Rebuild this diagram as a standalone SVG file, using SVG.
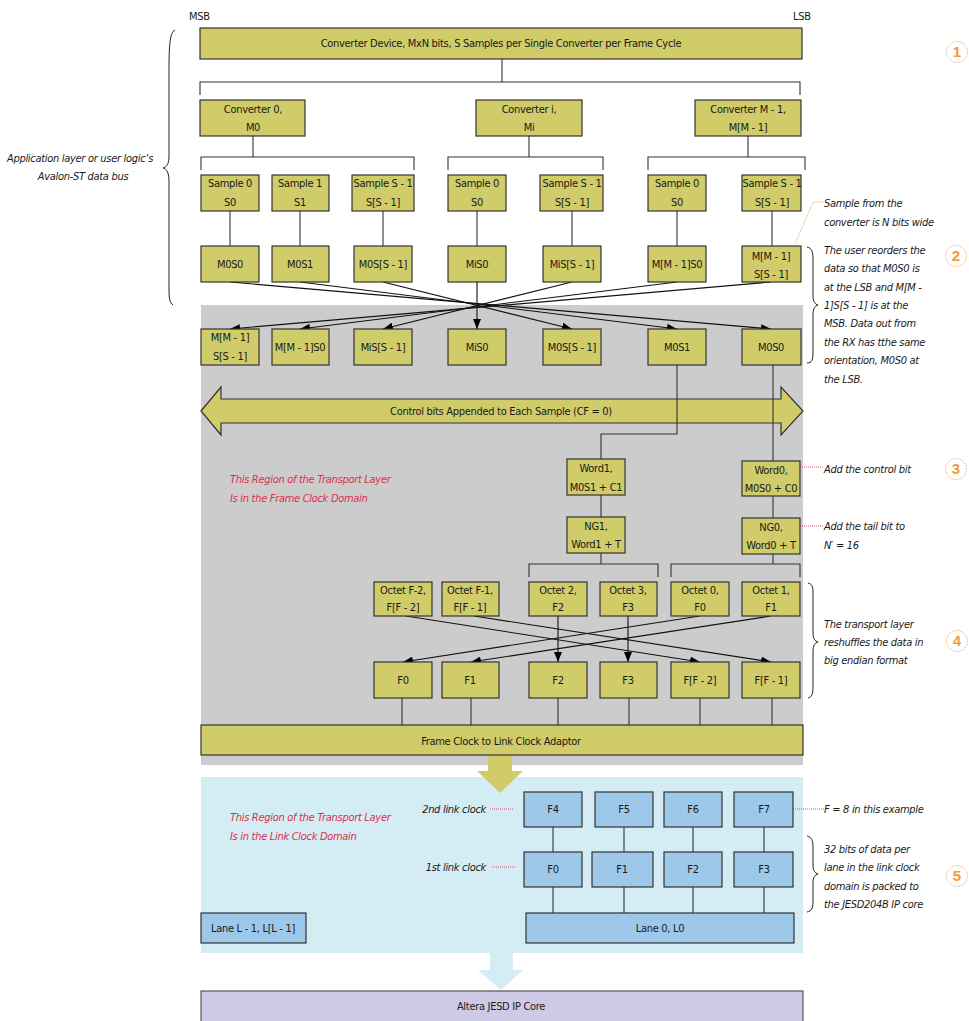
<svg xmlns="http://www.w3.org/2000/svg" width="969" height="1021" viewBox="0 0 969 1021">
<defs>
<style>
text{font-family:"Liberation Sans Narrow","DejaVu Sans Condensed","Roboto Condensed","Liberation Sans",sans-serif;font-stretch:condensed;font-size:11px;letter-spacing:-0.3px;fill:#1a1a1a}
.c{text-anchor:middle}
.i{font-style:italic}
.red{fill:#d9304f;font-style:italic}
.y{fill:#cfcc69;stroke:#333;stroke-width:1.2}
.b{fill:#9ec8e9;stroke:#333;stroke-width:1.2}
.ln{stroke:#333;stroke-width:1.1;fill:none}
.ar{stroke:#111;stroke-width:1.1;fill:none;marker-end:url(#ah)}
.dr{stroke:#e0506a;stroke-width:1;stroke-dasharray:1 1;fill:none}
.do{stroke:#f29a3c;stroke-width:1;stroke-dasharray:1 1.2;fill:none}
.br{stroke:#222;stroke-width:1;fill:none}
.num{font-family:"Liberation Sans","DejaVu Sans",sans-serif;font-weight:bold;font-size:15px;letter-spacing:0;fill:#f29a3c;text-anchor:middle;font-stretch:normal}
</style>
<marker id="ah" viewBox="0 0 10 8" refX="10" refY="4" markerWidth="10" markerHeight="8" orient="auto" markerUnits="userSpaceOnUse"><path d="M0,0 L10,4 L0,8 z" fill="#000"/></marker>
</defs>
<rect width="969" height="1021" fill="#fff"/>

<g id="regions">
<rect x="201" y="305" width="602" height="460" fill="#cccccc"/>
<rect x="201" y="777" width="602" height="176" fill="#d4ecf3"/>
<polygon points="490,953 513,953 513,970 523,970 501,990 478,970 490,970" fill="#d4ecf3"/>
<text class="red" x="230" y="483">This Region of the Transport Layer</text>
<text class="red" x="230" y="502">Is in the Frame Clock Domain</text>
<text class="red" x="230" y="821">This Region of the Transport Layer</text>
<text class="red" x="230" y="840">Is in the Link Clock Domain</text>
</g>

<g id="labels">
<text x="189" y="20">MSB</text>
<text x="793" y="20">LSB</text>
<text class="i c" x="80" y="162">Application layer or user logic’s</text>
<text class="i c" x="83" y="180">Avalon-ST data bus</text>
<path class="br" d="M175,30 C170,32 169,45 169,70 L169,155 C169,164 167,167 163,168 C167,169 169,173 169,182 L169,290 C169,299 170,303 173,305"/>
<path class="br" d="M807,247 C812,248 813,252 813,260 L813,295 C813,302 815,304 818,305 C815,306 813,308 813,315 L813,352 C813,360 812,363 807,363"/>
<path class="br" d="M808,583 C813,584 813,588 813,596 L813,632 C813,639 815,641 818,642 C815,643 813,645 813,652 L813,686 C813,694 812,697 808,698"/>
<path class="br" d="M807,836 C812,837 813,841 813,848 L813,865 C813,871 815,873 818,874 C815,875 813,877 813,883 L813,900 C813,908 812,911 807,912"/>
<path class="do" d="M795,244 L813,202 L824,202"/>
<text class="i" x="824" y="207">Sample from the</text>
<text class="i" x="824" y="226">converter is N bits wide</text>
<text class="i" x="824" y="254">The user reorders the</text>
<text class="i" x="824" y="272">data so that M0S0 is</text>
<text class="i" x="824" y="291">at the LSB and M[M -</text>
<text class="i" x="824" y="309">1]S[S - 1] is at the</text>
<text class="i" x="824" y="327">MSB. Data out from</text>
<text class="i" x="824" y="346">the RX has tthe same</text>
<text class="i" x="824" y="364">orientation, M0S0 at</text>
<text class="i" x="824" y="383">the LSB.</text>
<path class="dr" d="M800,467 L824,467"/>
<text class="i" x="824" y="473">Add the control bit</text>
<path class="dr" d="M800,526 L824,526"/>
<text class="i" x="824" y="530">Add the tail bit to</text>
<text class="i" x="824" y="549">N′ = 16</text>
<text class="i" x="824" y="628">The transport layer</text>
<text class="i" x="824" y="646">reshuffles the data in</text>
<text class="i" x="824" y="664">big endian format</text>
<path class="dr" d="M490,809 L514,809"/>
<text class="i" x="486" y="813" text-anchor="end">2nd link clock</text>
<path class="dr" d="M492,867 L516,867"/>
<text class="i" x="486" y="871" text-anchor="end">1st link clock</text>
<path class="dr" d="M793,809 L824,809"/>
<text class="i" x="824" y="813">F = 8 in this example</text>
<text class="i" x="824" y="853">32 bits of data per</text>
<text class="i" x="824" y="871">lane in the link clock</text>
<text class="i" x="824" y="890">domain is packed to</text>
<text class="i" x="824" y="908">the JESD204B IP core</text>
<circle class="do" cx="957" cy="52" r="10.5"/><text class="num" x="957" y="57">1</text>
<circle class="do" cx="956" cy="256" r="10.5"/><text class="num" x="956" y="261">2</text>
<circle class="do" cx="956" cy="469" r="10.5"/><text class="num" x="956" y="474">3</text>
<circle class="do" cx="957" cy="641" r="10.5"/><text class="num" x="957" y="646">4</text>
<circle class="do" cx="957" cy="876" r="10.5"/><text class="num" x="957" y="881">5</text>
</g>

<g id="cb-arrow">
<polygon class="y" points="201,411 221,387 221,399 781,399 781,387 803,411 781,435 781,423 221,423 221,435"/>
<text class="c" x="501" y="415">Control bits Appended to Each Sample (CF = 0)</text>
</g>

<g id="connectors">
<path class="ln" d="M502,59 V82 M200,95 V82 H800 V95"/>
<path class="ln" d="M253,136 V157 M201,170 V157 H414 V170"/>
<path class="ln" d="M529,136 V157 M448,170 V157 H603 V170"/>
<path class="ln" d="M748,136 V157 M648,170 V157 H805 V170"/>
<path class="ln" d="M230,211 V246 M300,211 V246 M383,211 V246 M477,211 V246 M572,211 V246 M677,211 V246 M772,211 V246"/>
<line class="ar" x1="230" y1="282" x2="771" y2="329"/>
<line class="ar" x1="300" y1="282" x2="677" y2="329"/>
<line class="ar" x1="383" y1="282" x2="572" y2="329"/>
<line class="ar" x1="477" y1="282" x2="477" y2="329"/>
<line class="ar" x1="572" y1="282" x2="383" y2="329"/>
<line class="ar" x1="677" y1="282" x2="300" y2="329"/>
<line class="ar" x1="771" y1="282" x2="230" y2="329"/>
<path class="ln" d="M677,365 V434 H601 V459"/>
<path class="ln" d="M773,365 V461"/>
<path class="ln" d="M601,495 V517 M773,496 V518"/>
<path class="ln" d="M601,553 V564 M529,577 V564 H658 V577"/>
<path class="ln" d="M773,554 V564 M671,577 V564 H800 V577"/>
<line class="ar" x1="406" y1="616" x2="700" y2="662"/>
<line class="ar" x1="474" y1="616" x2="771" y2="662"/>
<line class="ar" x1="558" y1="616" x2="558" y2="662"/>
<line class="ar" x1="628" y1="616" x2="628" y2="662"/>
<line class="ar" x1="700" y1="616" x2="403" y2="662"/>
<line class="ar" x1="771" y1="616" x2="471" y2="662"/>
<path class="ln" d="M402,698 V725 M471,698 V725 M558,698 V725 M629,698 V725 M700,698 V725 M772,698 V725"/>
<path class="ln" d="M553,827 V852 M624,827 V852 M693,827 V852 M764,827 V852 M553,887 V913 M624,887 V913 M693,887 V913 M764,887 V913"/>
<polygon points="488,755 512,755 512,771 523,771 500,793 477,771 488,771" fill="#cfcc69"/>
</g>

<g id="n-top"><rect class="y" x="200" y="28" width="602" height="31"/><text class="c" x="501" y="47">Converter Device, MxN bits, S Samples per Single Converter per Frame Cycle</text></g>
<g id="n-conv0"><rect class="y" x="200" y="100" width="105" height="36"/><text class="c" x="253" y="113">Converter 0,</text><text class="c" x="253" y="131">M0</text></g>
<g id="n-convi"><rect class="y" x="476" y="100" width="106" height="36"/><text class="c" x="529" y="113">Converter i,</text><text class="c" x="529" y="131">Mi</text></g>
<g id="n-convm"><rect class="y" x="695" y="100" width="106" height="36"/><text class="c" x="748" y="113">Converter M - 1,</text><text class="c" x="748" y="131">M[M - 1]</text></g>

<g id="n-s1"><rect class="y" x="201" y="175" width="58" height="36"/><text class="c" x="230" y="187">Sample 0</text><text class="c" x="230" y="206">S0</text></g>
<g id="n-s2"><rect class="y" x="272" y="175" width="57" height="36"/><text class="c" x="300" y="187">Sample 1</text><text class="c" x="300" y="206">S1</text></g>
<g id="n-s3"><rect class="y" x="352" y="175" width="62" height="36"/><text class="c" x="383" y="187">Sample S - 1</text><text class="c" x="383" y="206">S[S - 1]</text></g>
<g id="n-s4"><rect class="y" x="448" y="175" width="58" height="36"/><text class="c" x="477" y="187">Sample 0</text><text class="c" x="477" y="206">S0</text></g>
<g id="n-s5"><rect class="y" x="540" y="175" width="63" height="36"/><text class="c" x="572" y="187">Sample S - 1</text><text class="c" x="572" y="206">S[S - 1]</text></g>
<g id="n-s6"><rect class="y" x="648" y="175" width="58" height="36"/><text class="c" x="677" y="187">Sample 0</text><text class="c" x="677" y="206">S0</text></g>
<g id="n-s7"><rect class="y" x="742" y="175" width="59" height="36"/><text class="c" x="772" y="187">Sample S - 1</text><text class="c" x="772" y="206">S[S - 1]</text></g>

<g id="n-a1"><rect class="y" x="201" y="246" width="58" height="36"/><text class="c" x="230" y="268">M0S0</text></g>
<g id="n-a2"><rect class="y" x="272" y="246" width="57" height="36"/><text class="c" x="300" y="268">M0S1</text></g>
<g id="n-a3"><rect class="y" x="354" y="246" width="58" height="36"/><text class="c" x="383" y="268">M0S[S - 1]</text></g>
<g id="n-a4"><rect class="y" x="448" y="246" width="58" height="36"/><text class="c" x="477" y="268">MiS0</text></g>
<g id="n-a5"><rect class="y" x="543" y="246" width="58" height="36"/><text class="c" x="572" y="268">MiS[S - 1]</text></g>
<g id="n-a6"><rect class="y" x="648" y="246" width="58" height="36"/><text class="c" x="677" y="268">M[M - 1]S0</text></g>
<g id="n-a7"><rect class="y" x="742" y="246" width="59" height="36"/><text class="c" x="771" y="260">M[M - 1]</text><text class="c" x="771" y="278">S[S - 1]</text></g>

<g id="n-b1"><rect class="y" x="201" y="329" width="58" height="36"/><text class="c" x="230" y="341">M[M - 1]</text><text class="c" x="230" y="360">S[S - 1]</text></g>
<g id="n-b2"><rect class="y" x="272" y="329" width="57" height="36"/><text class="c" x="300" y="351">M[M - 1]S0</text></g>
<g id="n-b3"><rect class="y" x="354" y="329" width="58" height="36"/><text class="c" x="383" y="351">MiS[S - 1]</text></g>
<g id="n-b4"><rect class="y" x="448" y="329" width="58" height="36"/><text class="c" x="477" y="351">MiS0</text></g>
<g id="n-b5"><rect class="y" x="543" y="329" width="58" height="36"/><text class="c" x="572" y="351">M0S[S - 1]</text></g>
<g id="n-b6"><rect class="y" x="648" y="329" width="58" height="36"/><text class="c" x="677" y="351">M0S1</text></g>
<g id="n-b7"><rect class="y" x="742" y="329" width="59" height="36"/><text class="c" x="771" y="351">M0S0</text></g>

<g id="n-word1"><rect class="y" x="567" y="459" width="58" height="36"/><text class="c" x="596" y="472">Word1,</text><text class="c" x="596" y="491">M0S1 + C1</text></g>
<g id="n-word0"><rect class="y" x="742" y="461" width="58" height="35"/><text class="c" x="771" y="474">Word0,</text><text class="c" x="771" y="492">M0S0 + C0</text></g>
<g id="n-ng1"><rect class="y" x="567" y="517" width="58" height="36"/><text class="c" x="596" y="530">NG1,</text><text class="c" x="596" y="548">Word1 + T</text></g>
<g id="n-ng0"><rect class="y" x="742" y="518" width="58" height="36"/><text class="c" x="771" y="531">NG0,</text><text class="c" x="771" y="549">Word0 + T</text></g>

<g id="n-o1"><rect class="y" x="374" y="582" width="58" height="34"/><text class="c" x="403" y="594">Octet F-2,</text><text class="c" x="403" y="611">F[F - 2]</text></g>
<g id="n-o2"><rect class="y" x="442" y="582" width="57" height="34"/><text class="c" x="470" y="594">Octet F-1,</text><text class="c" x="470" y="611">F[F - 1]</text></g>
<g id="n-o3"><rect class="y" x="529" y="582" width="58" height="34"/><text class="c" x="558" y="594">Octet 2,</text><text class="c" x="558" y="611">F2</text></g>
<g id="n-o4"><rect class="y" x="600" y="582" width="57" height="34"/><text class="c" x="628" y="594">Octet 3,</text><text class="c" x="628" y="611">F3</text></g>
<g id="n-o5"><rect class="y" x="671" y="582" width="58" height="34"/><text class="c" x="700" y="594">Octet 0,</text><text class="c" x="700" y="611">F0</text></g>
<g id="n-o6"><rect class="y" x="742" y="582" width="58" height="34"/><text class="c" x="771" y="594">Octet 1,</text><text class="c" x="771" y="611">F1</text></g>

<g id="n-f1"><rect class="y" x="374" y="662" width="58" height="36"/><text class="c" x="403" y="684">F0</text></g>
<g id="n-f2"><rect class="y" x="442" y="662" width="57" height="36"/><text class="c" x="470" y="684">F1</text></g>
<g id="n-f3"><rect class="y" x="529" y="662" width="58" height="36"/><text class="c" x="558" y="684">F2</text></g>
<g id="n-f4"><rect class="y" x="600" y="662" width="57" height="36"/><text class="c" x="628" y="684">F3</text></g>
<g id="n-f5"><rect class="y" x="671" y="662" width="58" height="36"/><text class="c" x="700" y="684">F[F - 2]</text></g>
<g id="n-f6"><rect class="y" x="742" y="662" width="58" height="36"/><text class="c" x="771" y="684">F[F - 1]</text></g>

<g id="n-adaptor"><rect class="y" x="201" y="725" width="602" height="30"/><text class="c" x="501" y="745">Frame Clock to Link Clock Adaptor</text></g>

<g id="n-l4"><rect class="b" x="524" y="792" width="58" height="35"/><text class="c" x="553" y="813">F4</text></g>
<g id="n-l5"><rect class="b" x="595" y="792" width="58" height="35"/><text class="c" x="624" y="813">F5</text></g>
<g id="n-l6"><rect class="b" x="664" y="792" width="58" height="35"/><text class="c" x="693" y="813">F6</text></g>
<g id="n-l7"><rect class="b" x="734" y="792" width="59" height="35"/><text class="c" x="764" y="813">F7</text></g>
<g id="n-l0"><rect class="b" x="524" y="852" width="58" height="35"/><text class="c" x="553" y="873">F0</text></g>
<g id="n-l1"><rect class="b" x="592" y="852" width="61" height="35"/><text class="c" x="622" y="873">F1</text></g>
<g id="n-l2"><rect class="b" x="664" y="852" width="58" height="35"/><text class="c" x="693" y="873">F2</text></g>
<g id="n-l3"><rect class="b" x="734" y="852" width="59" height="35"/><text class="c" x="764" y="873">F3</text></g>
<g id="n-lane0"><rect class="b" x="526" y="913" width="268" height="30"/><text class="c" x="660" y="932">Lane 0, L0</text></g>
<g id="n-lanel"><rect class="b" x="201" y="913" width="105" height="30"/><text class="c" x="253" y="932">Lane L - 1, L[L - 1]</text></g>

<g id="n-altera"><rect x="201" y="991" width="602" height="35" fill="#cecae6" stroke="#555" stroke-width="1.2"/><text class="c" x="501" y="1010">Altera JESD IP Core</text></g>
</svg>
